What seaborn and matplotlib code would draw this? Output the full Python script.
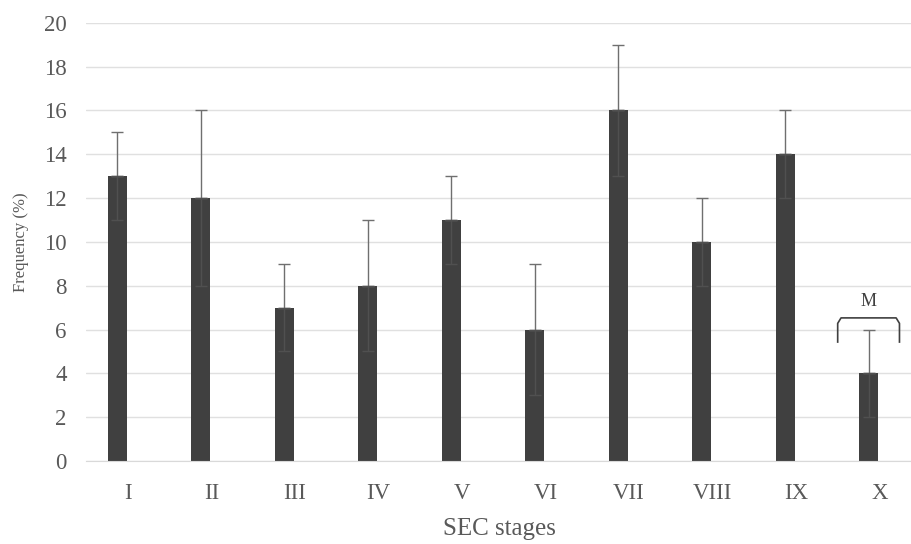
import numpy as np
import pandas as pd
import matplotlib
matplotlib.use("Agg")
import matplotlib.pyplot as plt
import seaborn as sns

stages = ["I", "II", "III", "IV", "V", "VI", "VII", "VIII", "IX", "X"]
freq = [13, 12, 7, 8, 11, 6, 16, 10, 14, 4]
err = [2, 4, 2, 3, 2, 3, 3, 2, 2, 2]
bracket_label = "M"

sns.set_style("white")
plt.rcParams["font.family"] = ["Liberation Serif", "DejaVu Serif"]

# Excel style: a second, empty series pushes the bars left of the tick
df = pd.DataFrame({
    "stage": stages * 2,
    "freq": freq + [0] * len(stages),
    "series": ["a"] * len(stages) + ["b"] * len(stages),
})

fig = plt.figure(figsize=(9.12, 5.44), dpi=100)
ax = fig.add_axes([0.0945, 0.1526, 0.9055, 0.8056])

sns.barplot(data=df, x="stage", y="freq", hue="series", hue_order=["a", "b"],
            order=stages, palette=["#404040", "#404040"], width=0.52, gap=0.12,
            errorbar=None, legend=False, ax=ax, linewidth=0)

bars = ax.patches[:len(stages)]
xs = [b.get_x() + b.get_width() / 2 for b in bars]
zeros = [0] * len(err)
# upper half shows grey above the bar, lower half barely shows on the dark bar
ax.errorbar(xs, freq, yerr=[zeros, err], fmt="none", ecolor="#6f6f6f",
            elinewidth=1, capsize=4, capthick=1, zorder=3)
ax.errorbar(xs, freq, yerr=[err, zeros], fmt="none", ecolor="#505050",
            elinewidth=1, capsize=4, capthick=1, zorder=3)

ax.set_ylim(0, 20)
ax.set_xlim(-0.5, 9.39)
ax.set_yticks(range(0, 21, 2))
ax.yaxis.grid(True, color="#e0e0e0", linewidth=1)
ax.set_axisbelow(True)
for s in ["top", "right", "left"]:
    ax.spines[s].set_visible(False)
ax.spines["bottom"].set_color("#d9d9d9")
ax.tick_params(axis="both", length=0, labelsize=16.5, colors="#595959")
ax.tick_params(axis="y", pad=14)
ax.tick_params(axis="x", pad=16)
ax.set_xlabel("SEC stages", fontsize=18, color="#595959", labelpad=10)
ax.set_ylabel("Frequency (%)", fontsize=12, color="#595959", labelpad=11)

# bracket over the last bar
cx = xs[-1]
hw = 0.37
y_top, y_bot, r = 6.53, 5.39, 0.25
bx = [cx - hw, cx - hw, cx - hw + 0.04, cx + hw - 0.04, cx + hw, cx + hw]
by = [y_bot, y_top - r, y_top, y_top, y_top - r, y_bot]
ax.plot(bx, by, color="#404040", linewidth=1.2, solid_capstyle="butt")
ax.text(cx, y_top + 0.35, bracket_label, ha="center", va="bottom",
        fontsize=13, color="#404040")

fig.savefig("out.png", dpi=100)
